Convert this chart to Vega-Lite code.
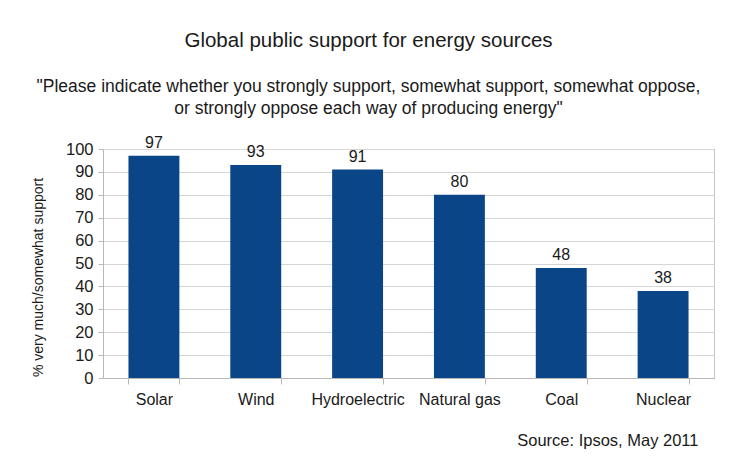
{
  "$schema": "https://vega.github.io/schema/vega-lite/v6.json",
  "autosize": "none",
  "width": 611,
  "height": 229,
  "padding": {"left": 103, "top": 149, "right": 16, "bottom": 79},
  "background": "white",
  "config": {
    "font": "Liberation Sans",
    "view": {"stroke": "#c8c8c8", "strokeWidth": 1}
  },
  "title": {
    "text": "Global public support for energy sources",
    "subtitle": ["\"Please indicate whether you strongly support, somewhat support, somewhat oppose,", "or strongly oppose each way of producing energy\""],
    "anchor": "middle",
    "dx": -40,
    "fontSize": 20.5,
    "fontWeight": "normal",
    "color": "#1a1a1a",
    "subtitleFontSize": 17.5,
    "subtitleColor": "#1a1a1a",
    "subtitleLineHeight": 22,
    "subtitlePadding": 27,
    "offset": 17
  },
  "data": {
    "values": [
      {"source": "Solar", "support": 97},
      {"source": "Wind", "support": 93},
      {"source": "Hydroelectric", "support": 91},
      {"source": "Natural gas", "support": 80},
      {"source": "Coal", "support": 48},
      {"source": "Nuclear", "support": 38}
    ]
  },
  "encoding": {
    "x": {
      "field": "source",
      "type": "nominal",
      "sort": null,
      "scale": {"paddingInner": 0.5, "paddingOuter": 0.25},
      "axis": {
        "title": "Source: Ipsos, May 2011",
        "titleFontSize": 16.5,
        "titleFontWeight": "normal",
        "titleColor": "#1a1a1a",
        "titleAnchor": "end",
        "titleAlign": "right",
        "titleX": 595,
        "titleY": 62,
        "titleBaseline": "middle",
        "labelAngle": 0,
        "labelFontSize": 16,
        "labelColor": "#1a1a1a",
        "labelPadding": 7,
        "tickBand": "extent",
        "tickColor": "#b8b8b8",
        "tickSize": 6,
        "domainColor": "#b8b8b8",
        "grid": false
      }
    },
    "y": {
      "field": "support",
      "type": "quantitative",
      "scale": {"domain": [0, 100]},
      "axis": {
        "title": "% very much/somewhat support",
        "titleFontSize": 14,
        "titleFontWeight": "normal",
        "titleColor": "#1a1a1a",
        "titleX": -65,
        "titleY": 128,
        "titleAngle": -90,
        "titleAlign": "center",
        "titleBaseline": "middle",
        "values": [0, 10, 20, 30, 40, 50, 60, 70, 80, 90, 100],
        "labelFontSize": 16.5,
        "labelColor": "#1a1a1a",
        "labelPadding": 5,
        "tickColor": "#b8b8b8",
        "tickSize": 5,
        "domainColor": "#b8b8b8",
        "gridColor": "#d6d6d6"
      }
    }
  },
  "layer": [
    {"mark": {"type": "bar", "color": "#0a4587"}},
    {
      "mark": {"type": "text", "dy": -13, "fontSize": 16, "color": "#1a1a1a"},
      "encoding": {"text": {"field": "support", "type": "quantitative"}}
    }
  ]
}
